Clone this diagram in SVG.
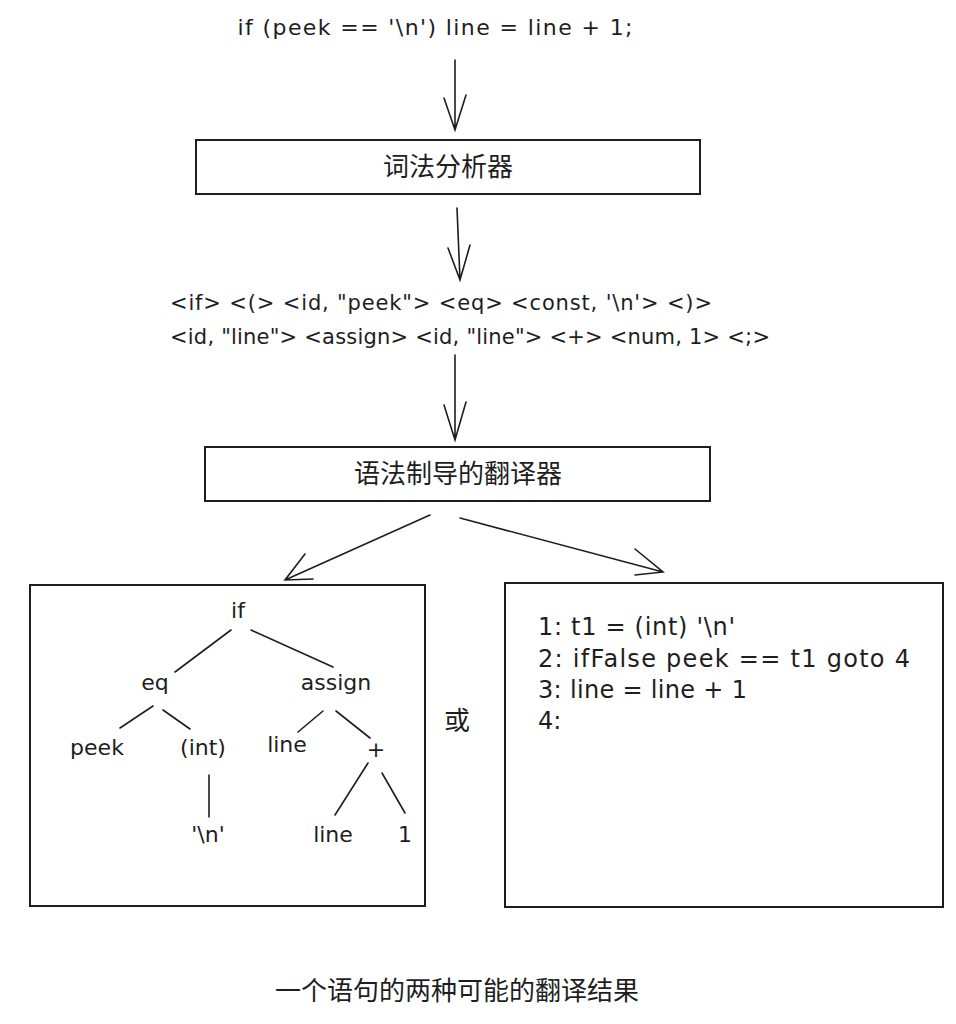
<svg xmlns="http://www.w3.org/2000/svg" width="956" height="1024" viewBox="0 0 956 1024">
<style>
.t{font-family:"DejaVu Sans","Noto Sans",sans-serif;font-size:21px;fill:#1e1e1e}
.n{font-family:"DejaVu Sans","Noto Sans",sans-serif;font-size:22px;fill:#1e1e1e}
.k{font-family:"DejaVu Sans","Noto Sans",sans-serif;font-size:24px;fill:#1e1e1e}
.c{font-family:"Noto Sans CJK SC","Noto Sans",sans-serif;font-size:26px;fill:#1e1e1e}
.box{fill:#fff;stroke:#1e1e1e;stroke-width:2}
.ln{fill:none;stroke:#1e1e1e;stroke-width:1.6;stroke-linecap:round}
</style>
<rect width="956" height="1024" fill="#fff"/>
<g id="source"><text class="n" x="435" y="35" text-anchor="middle" textLength="395">if (peek == '\n') line = line + 1;</text></g>
<g id="lexer"><rect class="box" x="196" y="140" width="504" height="54"/><text class="c" x="448" y="176" text-anchor="middle">词法分析器</text></g>
<g id="tokens">
<text class="t" x="170" y="310" textLength="542">&lt;if&gt; &lt;(&gt; &lt;id, "peek"&gt; &lt;eq&gt; &lt;const, '\n'&gt; &lt;)&gt;</text>
<text class="t" x="170" y="344" textLength="600">&lt;id, "line"&gt; &lt;assign&gt; &lt;id, "line"&gt; &lt;+&gt; &lt;num, 1&gt; &lt;;&gt;</text>
</g>
<g id="translator"><rect class="box" x="205" y="447" width="505" height="54"/><text class="c" x="458" y="483" text-anchor="middle">语法制导的翻译器</text></g>
<g id="tree">
<rect class="box" x="30" y="585" width="395" height="321"/>
<text class="n" x="238" y="618" text-anchor="middle">if</text>
<text class="n" x="155" y="690" text-anchor="middle">eq</text>
<text class="n" x="336" y="690" text-anchor="middle">assign</text>
<text class="n" x="97" y="755" text-anchor="middle">peek</text>
<text class="n" x="203" y="755" text-anchor="middle">(int)</text>
<text class="n" x="287" y="752" text-anchor="middle">line</text>
<text class="n" x="376" y="757" text-anchor="middle">+</text>
<text class="n" x="208" y="842" text-anchor="middle">'\n'</text>
<text class="n" x="333" y="842" text-anchor="middle">line</text>
<text class="n" x="405" y="842" text-anchor="middle">1</text>
<path class="ln" d="M231 630L175 672M251 630L333 667M153 706L120 728M163 710L190 729M323 711L298 732M336 711L370 738M209 775L209 817M368 763L335 815M382 773L405 813"/>
</g>
<g id="or"><text class="c" x="457" y="730" text-anchor="middle">或</text></g>
<g id="code">
<rect class="box" x="505" y="583" width="438" height="324"/>
<text class="k" x="538" y="635" textLength="197">1: t1 = (int) '\n'</text>
<text class="k" x="538" y="667" textLength="372">2: ifFalse peek == t1 goto 4</text>
<text class="k" x="538" y="698" textLength="209">3: line = line + 1</text>
<text class="k" x="538" y="729">4:</text>
</g>
<g id="caption"><text class="c" x="457" y="1000" text-anchor="middle">一个语句的两种可能的翻译结果</text></g>
<g id="connectors">
<path class="ln" d="M455 60L455 130M444 98L455 130L466 95"/>
<path class="ln" d="M457 208L460 280M448 248L460 280L470 245"/>
<path class="ln" d="M455 355L455 440M444 405L455 440L466 402"/>
<path class="ln" d="M430 515L285 580M305 554L285 580L313 579"/>
<path class="ln" d="M460 518L663 572M635 549L663 572L635 575"/>
</g>
</svg>
